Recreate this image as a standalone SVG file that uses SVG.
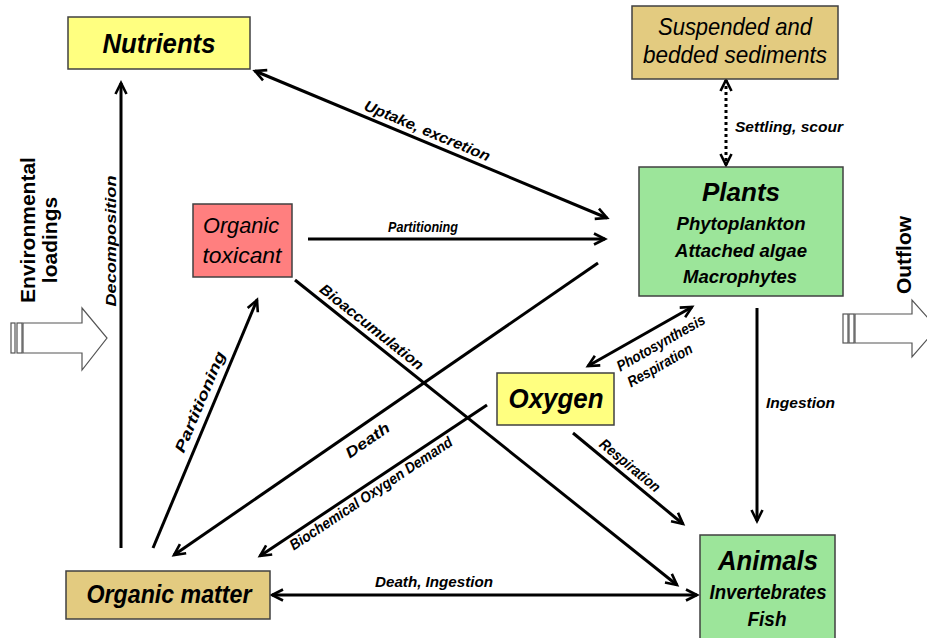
<svg xmlns="http://www.w3.org/2000/svg" width="927" height="638" viewBox="0 0 927 638">
<defs>
<style>
.box{stroke:#404040;stroke-width:1.5}
.yel{fill:#FFFF80}.tan{fill:#E3CB80}.grn{fill:#9CE59A}.red{fill:#FF7F7F}
.t{font-family:"Liberation Sans",Arial,sans-serif;font-style:italic;font-weight:bold;text-anchor:middle;fill:#000}
.n{font-weight:normal}
.c{stroke:#000;stroke-width:3;fill:none}
.d{stroke-dasharray:3 3}
.l{font-family:"Liberation Sans",Arial,sans-serif;font-style:italic;font-weight:bold;font-size:15px;text-anchor:middle;fill:#000}
.side{font-family:"Liberation Sans",Arial,sans-serif;font-weight:bold;font-size:21px;text-anchor:middle;fill:#000}
.hollow{fill:#fff;stroke:#555;stroke-width:1.2}
</style>
<marker id="ah" viewBox="0 0 16 14" refX="12" refY="7" markerWidth="16" markerHeight="14" markerUnits="userSpaceOnUse" orient="auto-start-reverse" overflow="visible">
<path d="M1,1.5 L12,7 L1,12.5" fill="none" stroke="#000" stroke-width="2.6"/>
</marker>
</defs>
<rect width="927" height="638" fill="#fff"/>

<g id="connectors">
<line class="c" x1="255" y1="71" x2="607" y2="218" marker-start="url(#ah)" marker-end="url(#ah)"/>
<line class="c" x1="308" y1="239" x2="605" y2="239" marker-end="url(#ah)"/>
<line class="c d" x1="726" y1="80" x2="726" y2="165" marker-start="url(#ah)" marker-end="url(#ah)"/>
<line class="c" x1="121" y1="548" x2="121" y2="83" marker-end="url(#ah)"/>
<line class="c" x1="295" y1="280" x2="677" y2="585" marker-end="url(#ah)"/>
<line class="c" x1="598" y1="263" x2="174" y2="555" marker-end="url(#ah)"/>
<line class="c" x1="153" y1="548" x2="257" y2="300" marker-end="url(#ah)"/>
<line class="c" x1="487" y1="405" x2="260" y2="556" marker-end="url(#ah)"/>
<line class="c" x1="588" y1="366" x2="692" y2="307" marker-start="url(#ah)" marker-end="url(#ah)"/>
<line class="c" x1="573" y1="433" x2="683" y2="524" marker-end="url(#ah)"/>
<line class="c" x1="757" y1="308" x2="757" y2="521" marker-end="url(#ah)"/>
<line class="c" x1="272" y1="595" x2="697" y2="595" marker-start="url(#ah)" marker-end="url(#ah)"/>

<text class="l" transform="translate(423,141) rotate(22.7)" y="-6" textLength="135" lengthAdjust="spacingAndGlyphs">Uptake, excretion</text>
<text class="l n" x="423" y="232" font-size="14" textLength="70" lengthAdjust="spacingAndGlyphs">Partitioning</text>
<text class="l" x="735" y="132" style="text-anchor:start" textLength="108" lengthAdjust="spacingAndGlyphs">Settling, scour</text>
<text class="l" transform="translate(116,241) rotate(-90)" textLength="131" lengthAdjust="spacingAndGlyphs">Decomposition</text>
<text class="l" transform="translate(366,334) rotate(38.5)" y="-4" font-size="14" textLength="128" lengthAdjust="spacingAndGlyphs">Bioaccumulation</text>
<text class="l" transform="translate(359,428) rotate(-34.6)" y="20" font-size="16" textLength="50" lengthAdjust="spacingAndGlyphs">Death</text>
<text class="l" transform="translate(366,486) rotate(-33.6)" y="14" font-size="13" textLength="192" lengthAdjust="spacingAndGlyphs">Biochemical Oxygen Demand</text>
<text class="l" transform="translate(212,407) rotate(-67.2)" y="-8" textLength="108" lengthAdjust="spacingAndGlyphs">Partitioning</text>
<g transform="translate(653,329) rotate(-29.6)">
<text class="l" y="21" font-size="13" textLength="99" lengthAdjust="spacingAndGlyphs">Photosynthesis</text>
<text class="l" x="-12" y="40" font-size="13" textLength="72" lengthAdjust="spacingAndGlyphs">Respiration</text>
</g>
<text class="l" transform="translate(623,474) rotate(39.6)" y="-6" font-size="13" textLength="74" lengthAdjust="spacingAndGlyphs">Respiration</text>
<text class="l" x="766" y="408" style="text-anchor:start" textLength="69" lengthAdjust="spacingAndGlyphs">Ingestion</text>
<text class="l" x="434" y="587" textLength="118" lengthAdjust="spacingAndGlyphs">Death, Ingestion</text>
</g>

<g id="nutrients">
<rect class="box yel" x="68" y="17" width="182" height="52"/>
<text class="t" x="159" y="53" font-size="28" textLength="113" lengthAdjust="spacingAndGlyphs">Nutrients</text>
</g>
<g id="sediments">
<rect class="box tan" x="632" y="6" width="206" height="73"/>
<text class="t n" x="735" y="35" font-size="24" textLength="154" lengthAdjust="spacingAndGlyphs">Suspended and</text>
<text class="t n" x="735" y="63" font-size="24" textLength="184" lengthAdjust="spacingAndGlyphs">bedded sediments</text>
</g>
<g id="plants">
<rect class="box grn" x="639" y="167" width="204" height="129"/>
<text class="t" x="741" y="201" font-size="26" textLength="78" lengthAdjust="spacingAndGlyphs">Plants</text>
<text class="t" x="741" y="230" font-size="19" textLength="129" lengthAdjust="spacingAndGlyphs">Phytoplankton</text>
<text class="t" x="741" y="257" font-size="19" textLength="132" lengthAdjust="spacingAndGlyphs">Attached algae</text>
<text class="t" x="740" y="283" font-size="19" textLength="114" lengthAdjust="spacingAndGlyphs">Macrophytes</text>
</g>
<g id="toxicant">
<rect class="box red" x="193" y="204" width="99" height="73"/>
<text class="t n" x="241" y="233" font-size="22" textLength="76" lengthAdjust="spacingAndGlyphs">Organic</text>
<text class="t n" x="242" y="263" font-size="22" textLength="79" lengthAdjust="spacingAndGlyphs">toxicant</text>
</g>
<g id="oxygen">
<rect class="box yel" x="497" y="373" width="117" height="52"/>
<text class="t" x="556" y="408" font-size="27" textLength="95" lengthAdjust="spacingAndGlyphs">Oxygen</text>
</g>
<g id="organic-matter">
<rect class="box tan" x="66" y="571" width="204" height="48"/>
<text class="t" x="169" y="603" font-size="25" textLength="165" lengthAdjust="spacingAndGlyphs">Organic matter</text>
</g>
<g id="animals">
<rect class="box grn" x="700" y="535" width="135" height="110"/>
<text class="t" x="768" y="570" font-size="28" textLength="100" lengthAdjust="spacingAndGlyphs">Animals</text>
<text class="t" x="768" y="599" font-size="20" textLength="117" lengthAdjust="spacingAndGlyphs">Invertebrates</text>
<text class="t" x="767" y="626" font-size="20" textLength="39" lengthAdjust="spacingAndGlyphs">Fish</text>
</g>

<g id="environmental-loadings">
<text class="side" transform="translate(35,230) rotate(-90)">Environmental</text>
<text class="side" transform="translate(57,240) rotate(-90)">loadings</text>
<rect class="hollow" x="11" y="323" width="4" height="30"/>
<rect class="hollow" x="17" y="323" width="5" height="30"/>
<polygon class="hollow" points="23,323 82,323 82,308 107,338 82,370 82,353 23,353"/>
</g>
<g id="outflow">
<text class="side" transform="translate(911,255) rotate(-90)">Outflow</text>
<rect class="hollow" x="843" y="314" width="5" height="29"/>
<rect class="hollow" x="849" y="314" width="5" height="29"/>
<polygon class="hollow" points="855,314 912,314 912,300 937,328 912,357 912,343 855,343"/>
</g>
</svg>
